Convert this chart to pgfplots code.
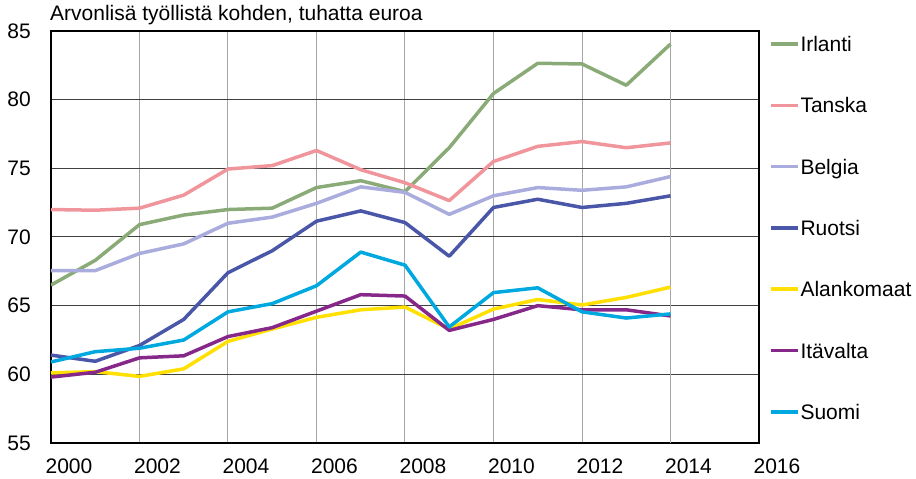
\documentclass[border=0pt]{standalone}
\usepackage{pgfplots}
\pgfplotsset{compat=1.18}
\usepackage{fontspec}
\setmainfont{Liberation Sans}
\definecolor{cIrl}{HTML}{8AAA78}
\definecolor{cTan}{HTML}{F0959B}
\definecolor{cBel}{HTML}{A9ACDC}
\definecolor{cRuo}{HTML}{4A56A8}
\definecolor{cAla}{HTML}{FFE000}
\definecolor{cIta}{HTML}{86288A}
\definecolor{cSuo}{HTML}{00A8E0}
\begin{document}
\fontsize{21}{25}\selectfont
\begin{tikzpicture}
\begin{axis}[
  at={(0,0)}, anchor=south west,
  scale only axis, width=708pt, height=412pt,
  xmin=2000, xmax=2016, ymin=55, ymax=85,
  xtick={2000,2002,...,2016}, ytick={55,60,...,85},
  /pgf/number format/assume math mode=true,
  /pgf/number format/1000 sep={},
  major tick length=0pt,
  xticklabel style={xshift=18pt, yshift=-9pt},
  yticklabel style={xshift=-13pt},
  axis line style={black, line width=1.5pt},
  xmajorgrids, ymajorgrids,
  x grid style={color=black!35, line width=1pt},
  y grid style={color=black!75, line width=1pt},
  extra x ticks={2014}, extra x tick labels={},
  extra x tick style={grid style={color=black!18, line width=2.5pt}},
  title style={at={(0,1)}, anchor=base west, yshift=4pt, xshift=-1pt, inner sep=0pt},
  title={Arvonlisä työllistä kohden, tuhatta euroa},
  every axis plot/.append style={line width=3.5pt, line join=round},
  legend image code/.code={\draw[#1, line width=3.5pt] (0pt,0pt) -- (27pt,0pt);},
  legend cell align=left,
  legend style={draw=none, fill=none, at={(1,1)}, anchor=north west,
    xshift=10pt, yshift=-1.5pt, inner sep=0pt, outer sep=0pt,
    row sep=38.3pt, column sep=1pt,
    nodes={inner sep=0pt, outer sep=0pt, text height=19pt, text depth=4pt, anchor=west}},
]
\addplot[color=cIrl] coordinates {(2000,66.5)(2001,68.3)(2002,70.9)(2003,71.6)(2004,72.0)(2005,72.1)(2006,73.6)(2007,74.1)(2008,73.3)(2009,76.5)(2010,80.45)(2011,82.65)(2012,82.6)(2013,81.05)(2014,84.05)};
\addlegendentry{Irlanti}
\addplot[color=cTan] coordinates {(2000,72.0)(2001,71.95)(2002,72.1)(2003,73.05)(2004,74.95)(2005,75.2)(2006,76.3)(2007,74.9)(2008,73.95)(2009,72.65)(2010,75.5)(2011,76.6)(2012,76.95)(2013,76.5)(2014,76.85)};
\addlegendentry{Tanska}
\addplot[color=cBel] coordinates {(2000,67.55)(2001,67.55)(2002,68.8)(2003,69.5)(2004,71.0)(2005,71.45)(2006,72.45)(2007,73.65)(2008,73.25)(2009,71.65)(2010,73.0)(2011,73.6)(2012,73.4)(2013,73.65)(2014,74.4)};
\addlegendentry{Belgia}
\addplot[color=cRuo] coordinates {(2000,61.4)(2001,60.95)(2002,62.1)(2003,64.0)(2004,67.4)(2005,69.0)(2006,71.15)(2007,71.9)(2008,71.05)(2009,68.6)(2010,72.15)(2011,72.75)(2012,72.15)(2013,72.45)(2014,73.0)};
\addlegendentry{Ruotsi}
\addplot[color=cAla] coordinates {(2000,60.1)(2001,60.2)(2002,59.85)(2003,60.4)(2004,62.4)(2005,63.3)(2006,64.15)(2007,64.7)(2008,64.9)(2009,63.3)(2010,64.75)(2011,65.45)(2012,65.05)(2013,65.6)(2014,66.35)};
\addlegendentry{Alankomaat}
\addplot[color=cIta] coordinates {(2000,59.8)(2001,60.15)(2002,61.2)(2003,61.35)(2004,62.75)(2005,63.4)(2006,64.6)(2007,65.8)(2008,65.7)(2009,63.2)(2010,64.0)(2011,65.0)(2012,64.7)(2013,64.7)(2014,64.25)};
\addlegendentry{Itävalta}
\addplot[color=cSuo] coordinates {(2000,60.9)(2001,61.65)(2002,61.9)(2003,62.5)(2004,64.55)(2005,65.15)(2006,66.45)(2007,68.9)(2008,67.95)(2009,63.45)(2010,65.95)(2011,66.3)(2012,64.55)(2013,64.1)(2014,64.4)};
\addlegendentry{Suomi}
\end{axis}
\pgfresetboundingbox
\path[use as bounding box] (-51pt,-36pt) rectangle (865pt,443pt);
\end{tikzpicture}
\end{document}
